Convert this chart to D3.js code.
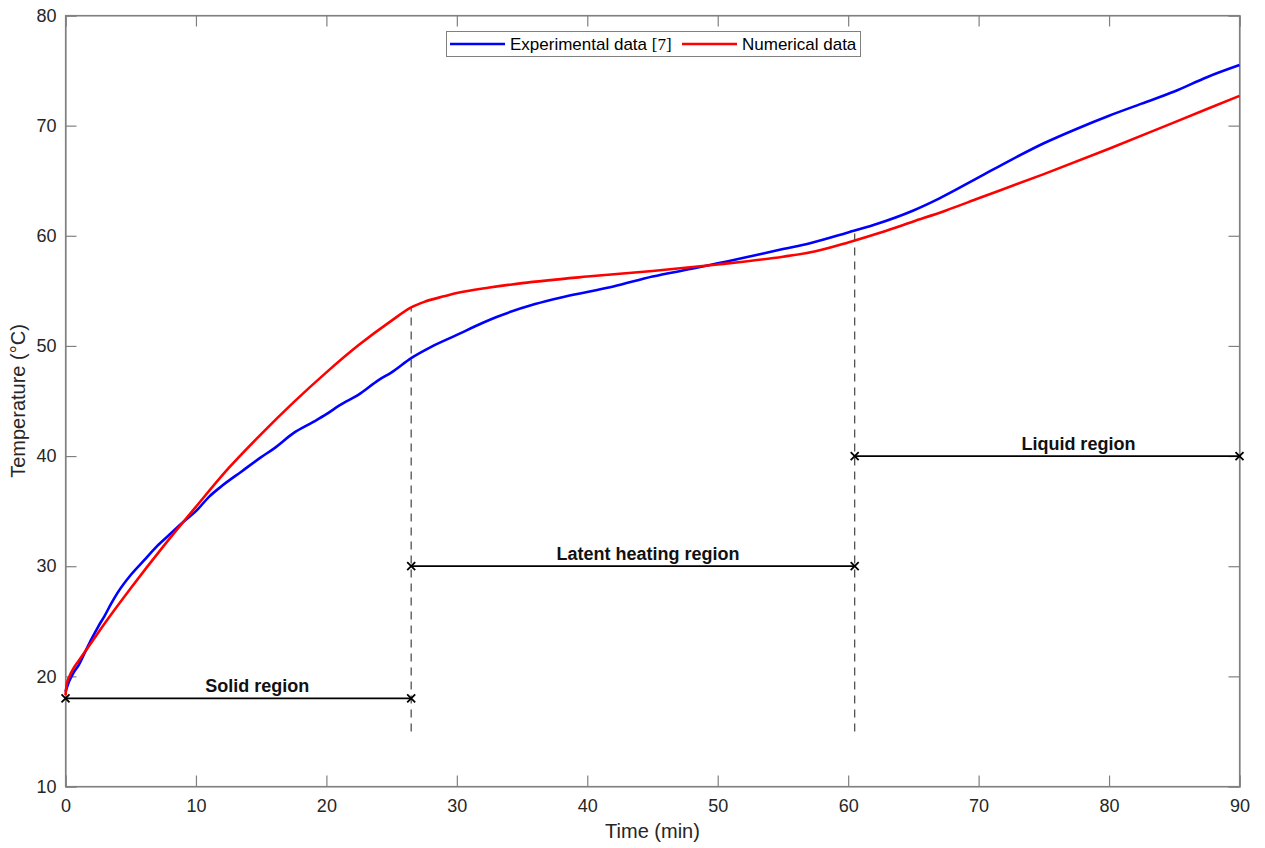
<!DOCTYPE html>
<html><head><meta charset="utf-8">
<script src="https://cdn.jsdelivr.net/npm/d3@7"></script>
<style>body{margin:0;background:#fff;} svg{display:block;}</style>
</head><body>
<svg id="chart" width="1265" height="848"></svg>
<script>
// Data
const expTime = [0,0.3,0.6,1,1.5,2,2.5,3,3.5,4,5,6,7,8,9,10,11,12,13.5,15,16,17.5,19,20,21,22.5,24,25,26.5,28,30,32,33,36,38,40,42,45,48,50,52,55,57,60,62,65,67,70,72.5,75,77.5,80,82.5,85,87.5,90];
const expTemp = [18.6,19.6,20.3,21.0,22.2,23.4,24.5,25.5,26.6,27.6,29.2,30.5,31.8,32.9,34.0,35.0,36.3,37.3,38.6,39.9,40.7,42.1,43.1,43.8,44.6,45.6,46.9,47.6,48.9,49.9,51.0,52.1,52.6,53.8,54.4,54.9,55.4,56.3,57.0,57.5,58.0,58.8,59.3,60.3,61.0,62.3,63.4,65.3,66.9,68.4,69.7,70.9,72.0,73.1,74.4,75.5];
const numTime = [0,0.1,0.3,0.6,1,2,3,5,7.5,10,12.5,15,17.5,20,22.5,25,26.5,27.5,29,30,32.5,35,40,45,50,55,57.5,60,62.5,65,67.5,70,75,80,85,90];
const numTemp = [18.3,19.3,20.0,20.7,21.4,23.1,24.8,28.0,31.8,35.4,38.9,42.0,44.9,47.6,50.1,52.3,53.5,54.0,54.5,54.8,55.3,55.7,56.3,56.8,57.4,58.1,58.6,59.4,60.3,61.3,62.3,63.4,65.6,67.9,70.3,72.7];
const xTicks = [0,10,20,30,40,50,60,70,80,90];
const yTicks = [10,20,30,40,50,60,70,80];
const regionNames = ["Solid region","Latent heating region","Liquid region"];
const regionStart = [0,26.5,60.5];
const regionEnd = [26.5,60.5,90];
const regionLevel = [18,30,40];
const regionLabelAt = [14.7,44.65,77.65];
const dividerX = [26.5,60.5];
const dividerTop = [53.5,60.4];
const dividerBottom = 15;
const seriesNames = ["Experimental data ","Numerical data"];
const seriesRefs = ["[7]",""];
const seriesColors = ["#0000ff","#ff0000"];

const svg = d3.select("#chart");
const L = 65.5, R = 1239.5, T = 15.5, B = 786.5;
const x = d3.scaleLinear().domain([0,90]).range([L,R]);
const y = d3.scaleLinear().domain([10,80]).range([B,T]);
const font = "Arial, 'Liberation Sans', Helvetica, sans-serif";

// axes box
svg.append("rect").attr("x",L).attr("y",T).attr("width",R-L).attr("height",B-T)
  .attr("fill","#fff").attr("stroke","#808080").attr("stroke-width",1.2);

const tl = 11;
const axB = svg.append("g").attr("transform",`translate(0,${B})`)
  .call(d3.axisBottom(x).tickValues(xTicks).tickSize(-tl).tickPadding(13));
const axT = svg.append("g").attr("transform",`translate(0,${T})`)
  .call(d3.axisTop(x).tickValues(xTicks).tickSize(-tl).tickFormat(""));
const axL = svg.append("g").attr("transform",`translate(${L},0)`)
  .call(d3.axisLeft(y).tickValues(yTicks).tickSize(-tl).tickPadding(9));
const axR = svg.append("g").attr("transform",`translate(${R},0)`)
  .call(d3.axisRight(y).tickValues(yTicks).tickSize(-tl).tickFormat(""));
[axB,axT,axL,axR].forEach(a=>{
  a.select(".domain").attr("stroke","#808080").attr("stroke-width",1.2);
  a.selectAll(".tick line").attr("stroke","#808080").attr("stroke-width",1.2);
  a.selectAll(".tick text").attr("font-family",font).attr("font-size",18).attr("fill","#262626");
});

// axis titles
svg.append("text").attr("x",(L+R)/2).attr("y",838).attr("text-anchor","middle")
  .attr("font-family",font).attr("font-size",20).attr("fill","#262626").text("Time (min)");
svg.append("text").attr("transform",`translate(25,${(T+B)/2}) rotate(-90)`).attr("text-anchor","middle")
  .attr("font-family",font).attr("font-size",20).attr("fill","#262626").text("Temperature (°C)");

// divider dashed lines
dividerX.forEach((d,i)=>{
  svg.append("line").attr("x1",x(d)).attr("x2",x(d)).attr("y1",y(dividerBottom)).attr("y2",y(dividerTop[i]))
    .attr("stroke","#444").attr("stroke-width",1.2).attr("stroke-dasharray","8,6");
});

// curves
const line = d3.line().x(d=>x(d[0])).y(d=>y(d[1])).curve(d3.curveMonotoneX);
svg.append("path").datum(expTime.map((t,i)=>[t,expTemp[i]])).attr("d",line)
  .attr("fill","none").attr("stroke",seriesColors[0]).attr("stroke-width",2.6);
svg.append("path").datum(numTime.map((t,i)=>[t,numTemp[i]])).attr("d",line)
  .attr("fill","none").attr("stroke",seriesColors[1]).attr("stroke-width",2.6);

// region ranges
regionNames.forEach((name,i)=>{
  const yy = y(regionLevel[i]);
  svg.append("line").attr("x1",x(regionStart[i])).attr("x2",x(regionEnd[i])).attr("y1",yy).attr("y2",yy)
    .attr("stroke","#000").attr("stroke-width",1.8);
  [regionStart[i],regionEnd[i]].forEach(xv=>{
    const cx = x(xv), s=4;
    svg.append("path").attr("d",`M${cx-s},${yy-s}L${cx+s},${yy+s}M${cx-s},${yy+s}L${cx+s},${yy-s}`)
      .attr("stroke","#000").attr("stroke-width",1.8);
  });
  svg.append("text").attr("x",x(regionLabelAt[i])).attr("y",yy-6)
    .attr("text-anchor","middle").attr("font-family",font).attr("font-weight","bold")
    .attr("font-size",18).attr("fill","#111").text(name);
});

// legend
const lg = svg.append("g");
lg.append("rect").attr("x",446.5).attr("y",31.5).attr("width",414).attr("height",25)
  .attr("fill","#fff").attr("stroke","#808080").attr("stroke-width",1);
const legX = [450,682];
seriesNames.forEach((n,i)=>{
  lg.append("line").attr("x1",legX[i]).attr("x2",legX[i]+55).attr("y1",44).attr("y2",44)
    .attr("stroke",seriesColors[i]).attr("stroke-width",2.6);
  const tx = lg.append("text").attr("x",legX[i]+60).attr("y",50).attr("font-family",font)
    .attr("font-size",17).attr("fill","#000").text(n);
  if (seriesRefs[i]) tx.append("tspan").attr("font-family","'Liberation Serif', 'DejaVu Serif', serif").text(seriesRefs[i]);
});
</script>
</body></html>
